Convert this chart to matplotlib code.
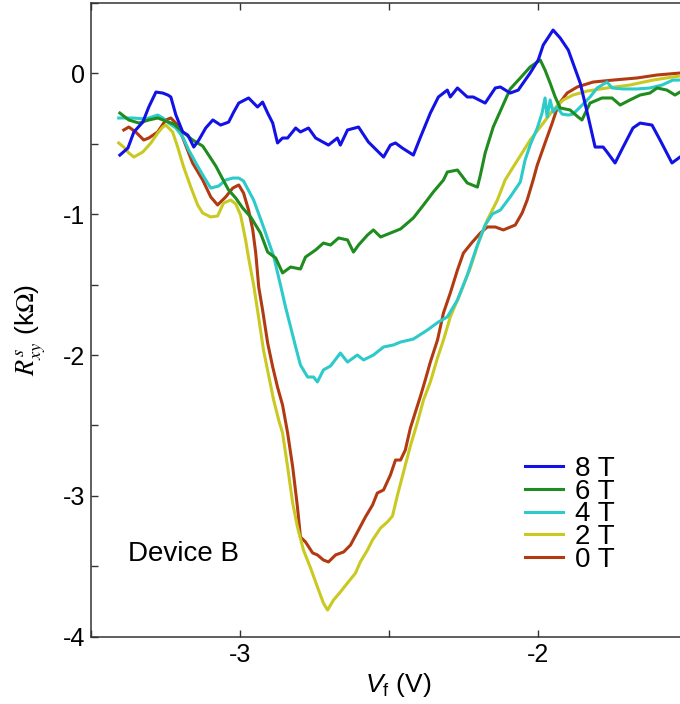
import matplotlib
matplotlib.use('Agg')
import matplotlib.pyplot as plt
from matplotlib.ticker import MultipleLocator

plt.rcParams['font.family'] = ['Liberation Sans', 'DejaVu Sans']
plt.rcParams['axes.unicode_minus'] = False
plt.rcParams['mathtext.fontset'] = 'custom'
plt.rcParams['mathtext.it'] = 'Liberation Sans:italic'
plt.rcParams['mathtext.rm'] = 'Liberation Sans'

# gate voltage (V) and Hall resistance (kOhm) for each field
v_8T = [-3.403, -3.376, -3.356, -3.326, -3.306, -3.282, -3.259, -3.242, -3.232, -3.215,
        -3.192, -3.175, -3.155, -3.138, -3.115, -3.091, -3.065, -3.038, -3.021, -3.004,
        -2.971, -2.941, -2.924, -2.907, -2.890, -2.874, -2.857, -2.840, -2.813, -2.797,
        -2.770, -2.746, -2.703, -2.673, -2.663, -2.639, -2.602, -2.569, -2.518, -2.495,
        -2.478, -2.455, -2.418, -2.394, -2.361, -2.334, -2.304, -2.294, -2.270, -2.237,
        -2.217, -2.177, -2.143, -2.126, -2.093, -2.066, -2.026, -1.999, -1.982, -1.949,
        -1.925, -1.898, -1.858, -1.831, -1.808, -1.781, -1.768, -1.741, -1.714, -1.681,
        -1.657, -1.617, -1.590, -1.550, -1.523]
r_8T = [-0.582, -0.532, -0.418, -0.348, -0.241, -0.135, -0.142, -0.156, -0.170, -0.298,
        -0.418, -0.440, -0.525, -0.475, -0.390, -0.333, -0.369, -0.348, -0.277, -0.213,
        -0.177, -0.241, -0.206, -0.284, -0.355, -0.496, -0.461, -0.461, -0.390, -0.418,
        -0.390, -0.461, -0.511, -0.461, -0.511, -0.404, -0.383, -0.489, -0.596, -0.511,
        -0.496, -0.532, -0.582, -0.454, -0.284, -0.170, -0.121, -0.170, -0.106, -0.170,
        -0.170, -0.213, -0.106, -0.099, -0.142, -0.121, 0.000, 0.092, 0.199, 0.305,
        0.248, 0.163, -0.071, -0.312, -0.525, -0.525, -0.560, -0.638, -0.525, -0.390,
        -0.355, -0.369, -0.475, -0.638, -0.596]

v_6T = [-3.403, -3.373, -3.339, -3.306, -3.276, -3.249, -3.222, -3.192, -3.159, -3.125,
        -3.105, -3.081, -3.058, -3.038, -3.014, -2.991, -2.964, -2.931, -2.907, -2.880,
        -2.857, -2.830, -2.797, -2.780, -2.746, -2.720, -2.696, -2.669, -2.639, -2.619,
        -2.602, -2.572, -2.552, -2.528, -2.495, -2.461, -2.418, -2.384, -2.351, -2.317,
        -2.304, -2.270, -2.237, -2.203, -2.193, -2.177, -2.150, -2.120, -2.093, -2.059,
        -2.026, -1.992, -1.976, -1.959, -1.942, -1.925, -1.892, -1.865, -1.852, -1.825,
        -1.785, -1.751, -1.724, -1.691, -1.657, -1.624, -1.600, -1.567, -1.540, -1.523]
r_6T = [-0.284, -0.333, -0.355, -0.333, -0.319, -0.340, -0.362, -0.418, -0.475, -0.518,
        -0.582, -0.660, -0.752, -0.830, -0.887, -0.957, -1.021, -1.135, -1.270, -1.312,
        -1.418, -1.376, -1.390, -1.305, -1.255, -1.206, -1.220, -1.170, -1.184, -1.270,
        -1.220, -1.149, -1.113, -1.163, -1.135, -1.106, -1.028, -0.936, -0.844, -0.759,
        -0.702, -0.688, -0.780, -0.809, -0.723, -0.567, -0.383, -0.241, -0.113, -0.035,
        0.043, 0.092, 0.021, -0.071, -0.170, -0.248, -0.262, -0.312, -0.333, -0.213,
        -0.177, -0.177, -0.227, -0.191, -0.156, -0.142, -0.106, -0.121, -0.156, -0.135]

v_4T = [-3.407, -3.360, -3.316, -3.276, -3.259, -3.239, -3.215, -3.192, -3.172, -3.148,
        -3.125, -3.098, -3.071, -3.048, -3.024, -3.004, -2.988, -2.954, -2.921, -2.887,
        -2.864, -2.847, -2.830, -2.813, -2.797, -2.773, -2.753, -2.740, -2.720, -2.696,
        -2.663, -2.639, -2.606, -2.585, -2.552, -2.518, -2.485, -2.461, -2.418, -2.371,
        -2.334, -2.304, -2.270, -2.237, -2.203, -2.177, -2.153, -2.126, -2.093, -2.059,
        -2.043, -2.026, -2.002, -1.986, -1.976, -1.969, -1.959, -1.949, -1.935, -1.919,
        -1.898, -1.882, -1.858, -1.825, -1.801, -1.768, -1.751, -1.714, -1.667, -1.624,
        -1.583, -1.547, -1.523]
r_4T = [-0.319, -0.319, -0.326, -0.298, -0.319, -0.355, -0.390, -0.454, -0.546, -0.638,
        -0.723, -0.816, -0.801, -0.759, -0.745, -0.745, -0.766, -0.901, -1.092, -1.298,
        -1.504, -1.660, -1.801, -1.943, -2.071, -2.156, -2.156, -2.191, -2.106, -2.078,
        -1.986, -2.050, -2.000, -2.035, -2.000, -1.943, -1.929, -1.908, -1.887, -1.823,
        -1.766, -1.730, -1.610, -1.433, -1.220, -1.078, -1.000, -0.972, -0.879, -0.773,
        -0.617, -0.511, -0.390, -0.284, -0.177, -0.312, -0.191, -0.277, -0.241, -0.291,
        -0.298, -0.291, -0.241, -0.170, -0.106, -0.064, -0.106, -0.113, -0.113, -0.106,
        -0.085, -0.050, -0.050]

v_2T = [-3.407, -3.390, -3.373, -3.356, -3.326, -3.299, -3.276, -3.259, -3.249, -3.226,
        -3.209, -3.189, -3.165, -3.142, -3.125, -3.098, -3.075, -3.055, -3.031, -3.014,
        -2.998, -2.981, -2.971, -2.954, -2.937, -2.921, -2.904, -2.887, -2.870, -2.857,
        -2.840, -2.823, -2.807, -2.787, -2.763, -2.740, -2.720, -2.706, -2.686, -2.663,
        -2.639, -2.612, -2.596, -2.572, -2.555, -2.528, -2.505, -2.488, -2.472, -2.451,
        -2.428, -2.404, -2.384, -2.361, -2.337, -2.317, -2.294, -2.260, -2.227, -2.200,
        -2.170, -2.136, -2.110, -2.083, -2.053, -2.026, -1.982, -1.949, -1.915, -1.882,
        -1.835, -1.768, -1.691, -1.614, -1.547, -1.523]
r_2T = [-0.496, -0.525, -0.567, -0.596, -0.560, -0.496, -0.426, -0.383, -0.369, -0.418,
        -0.525, -0.667, -0.809, -0.936, -0.993, -1.021, -1.014, -0.922, -0.901, -0.929,
        -1.007, -1.184, -1.312, -1.504, -1.738, -1.965, -2.142, -2.319, -2.461, -2.553,
        -2.794, -3.050, -3.220, -3.383, -3.511, -3.645, -3.759, -3.809, -3.738, -3.681,
        -3.617, -3.546, -3.468, -3.383, -3.312, -3.227, -3.184, -3.142, -3.000, -2.830,
        -2.645, -2.475, -2.319, -2.191, -2.021, -1.894, -1.730, -1.560, -1.383, -1.206,
        -1.043, -0.901, -0.759, -0.667, -0.567, -0.475, -0.355, -0.262, -0.191, -0.156,
        -0.128, -0.106, -0.085, -0.050, -0.028, -0.021]

v_0T = [-3.390, -3.373, -3.350, -3.323, -3.306, -3.276, -3.249, -3.232, -3.209, -3.189,
        -3.159, -3.125, -3.098, -3.075, -3.048, -3.024, -3.004, -2.988, -2.971, -2.957,
        -2.947, -2.937, -2.924, -2.907, -2.890, -2.874, -2.857, -2.840, -2.823, -2.807,
        -2.797, -2.780, -2.756, -2.740, -2.720, -2.703, -2.679, -2.652, -2.629, -2.602,
        -2.579, -2.555, -2.539, -2.518, -2.495, -2.478, -2.461, -2.445, -2.428, -2.411,
        -2.394, -2.378, -2.361, -2.337, -2.317, -2.294, -2.270, -2.250, -2.220, -2.193,
        -2.170, -2.143, -2.116, -2.100, -2.076, -2.053, -2.036, -2.016, -2.002, -1.976,
        -1.952, -1.932, -1.902, -1.868, -1.815, -1.748, -1.667, -1.600, -1.523]
r_0T = [-0.404, -0.383, -0.418, -0.475, -0.461, -0.418, -0.333, -0.319, -0.369, -0.475,
        -0.638, -0.759, -0.879, -0.936, -0.879, -0.816, -0.794, -0.851, -0.972, -1.113,
        -1.277, -1.518, -1.681, -1.915, -2.085, -2.227, -2.355, -2.553, -2.794, -3.078,
        -3.291, -3.326, -3.404, -3.418, -3.454, -3.468, -3.418, -3.397, -3.348, -3.241,
        -3.149, -3.064, -2.979, -2.957, -2.851, -2.745, -2.745, -2.674, -2.518, -2.404,
        -2.291, -2.177, -2.050, -1.894, -1.702, -1.560, -1.397, -1.277, -1.199, -1.135,
        -1.092, -1.092, -1.113, -1.099, -1.078, -0.993, -0.901, -0.759, -0.652, -0.496,
        -0.355, -0.227, -0.142, -0.099, -0.064, -0.050, -0.035, -0.014, 0.000]

labels = ['0 T', '2 T', '4 T', '6 T', '8 T']
colors = ['#b23a12', '#c9c922', '#2ccaca', '#1e8c1e', '#1212e6']

fig = plt.figure(figsize=(6.8, 7.04), dpi=100)
ax = fig.add_axes([0.1338, 0.0952, 0.8763, 0.9012])

curves = [(v_0T, r_0T), (v_2T, r_2T), (v_4T, r_4T), (v_6T, r_6T), (v_8T, r_8T)]
handles = []
for (v, r), lab, col in zip(curves, labels, colors):
    h, = ax.plot(v, r, color=col, lw=2.2, label=lab)
    handles.append(h)

ax.set_xlim(-3.5, -1.5)
ax.set_ylim(-4, 0.5)
ax.xaxis.set_major_locator(MultipleLocator(1))
ax.xaxis.set_minor_locator(MultipleLocator(0.5))
ax.yaxis.set_major_locator(MultipleLocator(1))
ax.yaxis.set_minor_locator(MultipleLocator(0.5))
ax.tick_params(which='both', direction='in', top=True, right=True, length=5,
               width=1.0, color='#333333', labelsize=18, pad=4)
for s in ax.spines.values():
    s.set_color('#333333')
    s.set_linewidth(1.1)

ax.set_xlabel(r'$V_\mathrm{f}$ (V)', fontsize=19)
ax.xaxis.set_label_coords(0.515, -0.053)
ax.set_ylabel(r'$R^{s}_{xy}$ (k$\Omega$)', fontsize=19, math_fontfamily='stix')
ax.yaxis.set_label_coords(-0.072, 0.484)

ax.text(0.062, 0.131, 'Device B', transform=ax.transAxes, fontsize=20, va='center')

ax.legend(handles[::-1], labels[::-1], loc='upper left',
          bbox_to_anchor=(0.728, 0.285), frameon=False, fontsize=20,
          borderaxespad=0, borderpad=0, handlelength=1.37, handletextpad=0.45,
          labelspacing=-0.12)

fig.savefig('out.png', dpi=100)
